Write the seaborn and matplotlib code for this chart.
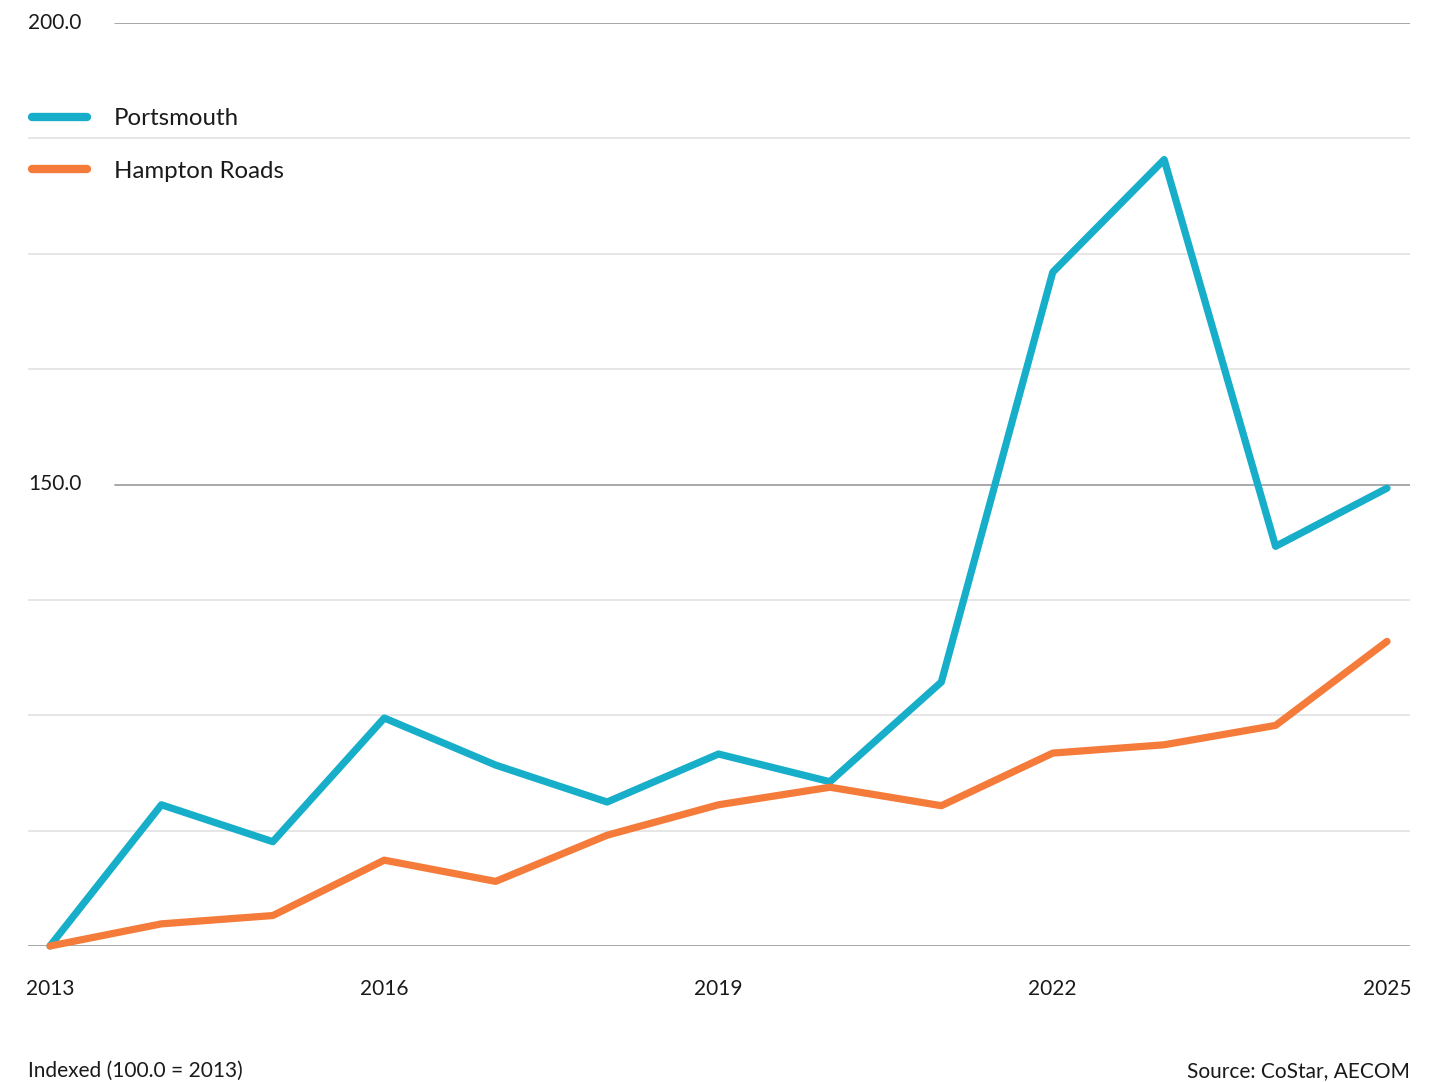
import matplotlib
matplotlib.use("Agg")
import matplotlib.pyplot as plt
import matplotlib.transforms as mtransforms
import seaborn as sns
import pandas as pd

# data (index, 100.0 = 2013)
years = list(range(2013, 2026))
portsmouth = [100.0, 115.3, 111.3, 124.7, 119.6, 115.6, 120.8, 117.8, 128.6, 173.0, 185.2, 143.3, 149.6]
hampton_roads = [100.0, 102.4, 103.3, 109.3, 107.0, 112.0, 115.3, 117.2, 115.2, 120.9, 121.8, 123.9, 133.0]
series_names = ["Portsmouth", "Hampton Roads"]
series_colors = ["#16AEC8", "#F47B3A"]
tick_years = [2013, 2016, 2019, 2022, 2025]
major_levels = [200.0, 150.0]
minor_levels = [112.5, 125.0, 137.5, 162.5, 175.0, 187.5]

df = pd.DataFrame({
    "year": years * 2,
    "value": portsmouth + hampton_roads,
    "series": [series_names[0]] * len(years) + [series_names[1]] * len(years),
})

sns.set_style("white")
plt.rcParams["font.family"] = ["Lato", "DejaVu Sans"]
text_color = "#1a1a1a"

W, H = 1447, 1082
fig = plt.figure(figsize=(W / 100, H / 100), dpi=100)
ax = fig.add_axes([28 / W, (H - 946) / H, (1410 - 28) / W, (946 - 23) / H])

# gridlines
for lv in minor_levels:
    ax.axhline(lv, color="#e2e2e2", lw=1.2, zorder=0)
for lv in major_levels:
    ax.axhline(lv, xmin=(115 - 28) / (1410 - 28), color="#9a9a9a", lw=1.2, zorder=0)
ax.axhline(100.0, color="#9a9a9a", lw=1.2, zorder=0)

sns.lineplot(data=df, x="year", y="value", hue="series", hue_order=series_names,
             palette=series_colors, linewidth=5.2, ax=ax, legend=True,
             solid_capstyle="round", solid_joinstyle="round", clip_on=False, zorder=3)

ax.set_xlim(2013 - 22 / 111.4, 2025 + 23 / 111.4)
ax.set_ylim(100, 200)
sns.despine(ax=ax, left=True, bottom=True)
ax.set_xlabel("")
ax.set_ylabel("")
ax.set_yticks([])
ax.set_xticks(tick_years)
ax.set_xticklabels([str(y) for y in tick_years], fontsize=15, color=text_color)
ax.tick_params(axis="x", length=0, pad=24)

# y labels sit on the left of the major gridlines
trans = mtransforms.blended_transform_factory(ax.transAxes, ax.transData)
for lv in major_levels:
    ax.text(0, lv, f"{lv:.1f}", transform=trans, ha="left", va="center",
            fontsize=15, color=text_color)

leg = ax.legend(loc="upper left", bbox_to_anchor=(4 / 1382, 0.9075), frameon=False,
                fontsize=17.3, handlelength=2.3, handletextpad=1.1,
                labelspacing=1.3, borderpad=0, borderaxespad=0)
for line in leg.get_lines():
    line.set_linewidth(6)
    line.set_solid_capstyle("round")
for t in leg.get_texts():
    t.set_color(text_color)

fig.text(28 / W, 1 - 1071 / H, "Indexed (100.0 = 2013)", ha="left", va="center",
         fontsize=15, color=text_color)
fig.text(1410 / W, 1 - 1071 / H, "Source: CoStar, AECOM", ha="right", va="center",
         fontsize=15, color=text_color)

fig.savefig("out.png", dpi=100)
plt.close(fig)
